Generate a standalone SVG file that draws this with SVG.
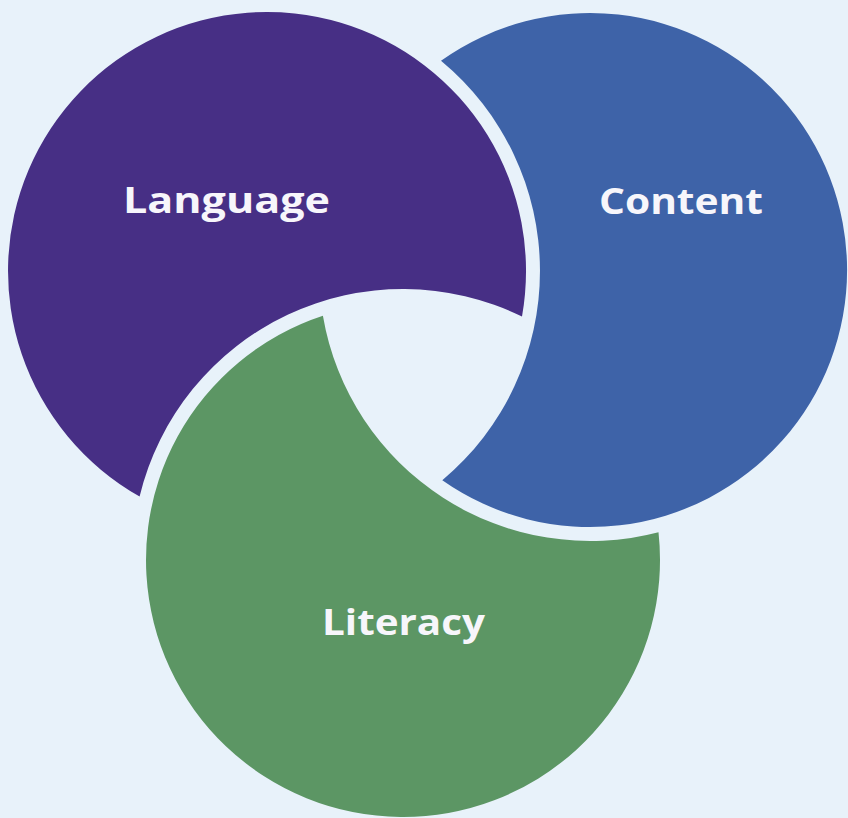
<svg xmlns="http://www.w3.org/2000/svg" width="848" height="818" viewBox="0 0 848 818">
  <style>
    .label { font-family: "Open Sans", "Liberation Sans", sans-serif; font-weight: 700; font-size: 36px; fill: #f7f6fb; text-anchor: middle; }
    .language { fill: #472f85; }
    .content { fill: #3e63a8; }
    .literacy { fill: #5c9664; }
  </style>
  <rect width="848" height="818" fill="#e8f2fa"/>
  <g id="language">
    <path class="language" d="M139.6,496.5 A259,259 0 1 1 522.0,316.5 A271,271 0 0 0 139.6,496.5 Z"/>
    <text class="label" x="226.5" y="213" textLength="207" lengthAdjust="spacingAndGlyphs">Language</text>
  </g>
  <g id="content">
    <path class="content" d="M441.0,60.7 A257,257 0 1 1 442.3,480.3 A273,273 0 0 0 441.0,60.7 Z"/>
    <text class="label" x="681" y="214" textLength="164" lengthAdjust="spacingAndGlyphs">Content</text>
  </g>
  <g id="literacy">
    <path class="literacy" d="M322.9,315.8 A257,257 0 1 0 658.5,532.2 A271,271 0 0 1 322.9,315.8 Z"/>
    <text class="label" x="403.5" y="635" textLength="163" lengthAdjust="spacingAndGlyphs">Literacy</text>
  </g>
</svg>
